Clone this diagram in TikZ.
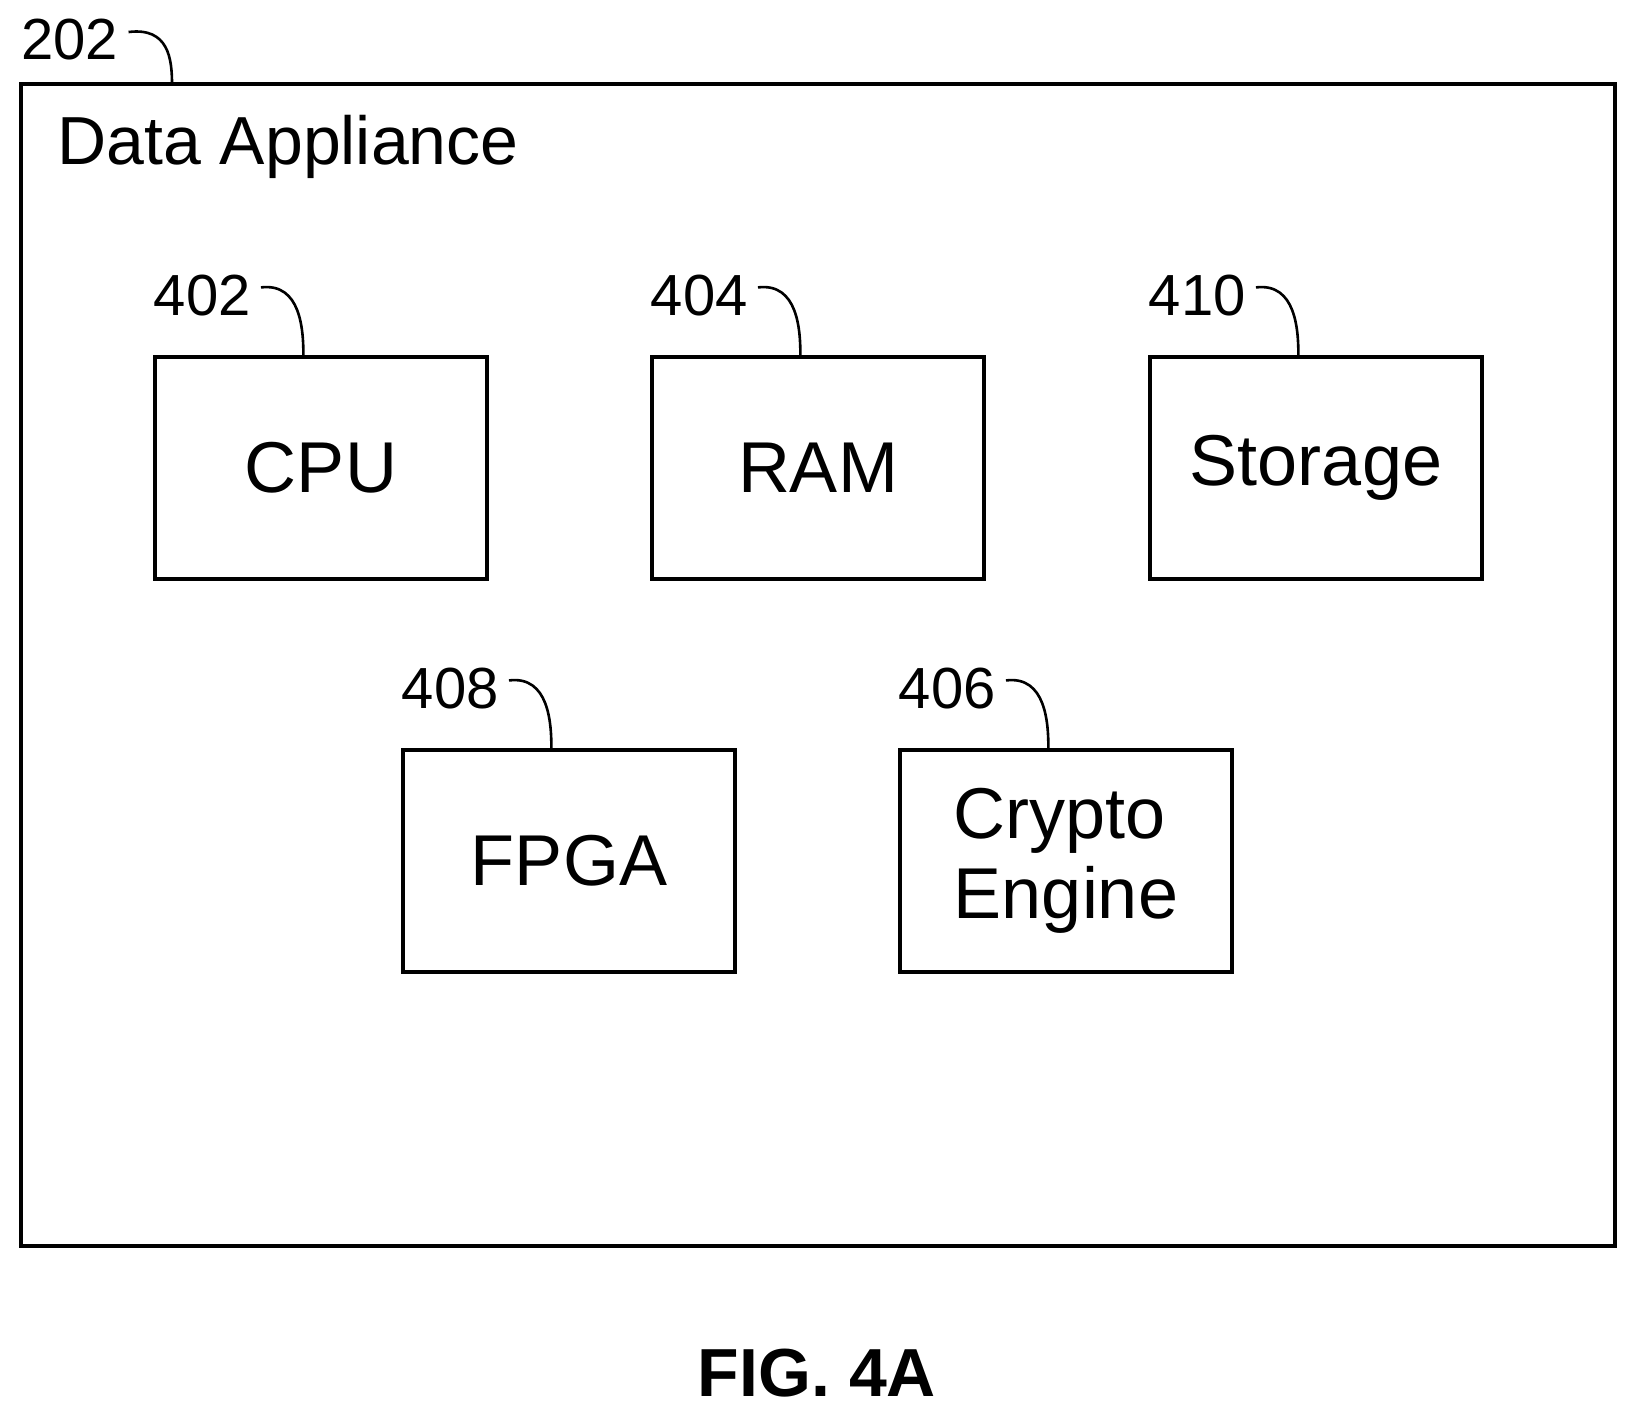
\documentclass[tikz,border=0pt]{standalone}
\usepackage{fontspec}
\setmainfont{Liberation Sans}
\usepackage{tikz}
\usetikzlibrary{positioning}

\tikzset{
    unit/.style={draw, line width=1.6pt, minimum width=166pt, minimum height=111pt, font=\fontsize{36}{40}\selectfont, align=left},
    refnum/.style={font=\fontsize{29}{30}\selectfont, inner sep=0pt, anchor=base west},
    hook/.style={line width=1.3pt}
}

\begin{document}
\begin{tikzpicture}[x=0.5pt, y=-0.5pt]
    \useasboundingbox (0,0) rectangle (1634,1413);

    % Appliance frame
    \draw[line width=2pt] (21,84) rectangle (1615,1246);
    \node[font=\fontsize{34}{36}\selectfont, inner sep=0pt, anchor=base west] (title) at (57,164) {Data Appliance};
    \node[refnum] (n202) at (21,60) {202};
    \draw[hook] ([xshift=5pt, yshift=4pt]n202.east) .. controls +(40,-5) and +(0,-25) .. (172,84);

    % Units
    \node[unit] (cpu) at (321,468) {CPU};
    \node[unit] (ram) at (818,468) {RAM};
    \node[unit] (storage) at (1316,468) {Storage};
    \node[unit] (fpga) at (569,861) {FPGA};
    \node[unit] (crypto) at (1066,861) {Crypto\\Engine};

    % Reference numerals
    \foreach \unitname/\num in {cpu/402, ram/404, storage/410, fpga/408, crypto/406} {
        \node[refnum] (n\num) at ([yshift=20pt]\unitname.north west) {\num};
        \draw[hook] ([xshift=5pt, yshift=4pt]n\num.east) .. controls +(40,-5) and +(0,-25) .. ([xshift=75pt]\unitname.north west);
    }

    % Caption
    \node[font=\fontsize{34}{36}\selectfont\bfseries] (caption) at (817,1373) {FIG. 4A};
\end{tikzpicture}
\end{document}
